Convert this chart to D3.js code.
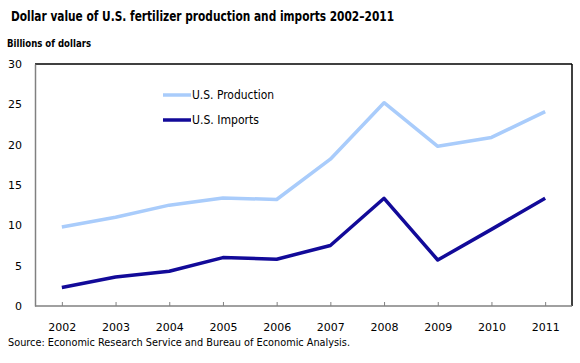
<!DOCTYPE html>
<html>
<head>
    <meta charset="utf-8">
    <script src="https://d3js.org/d3.v7.min.js"></script>
    <style>
        body { margin: 0; background: #ffffff; }
        text { font-family: 'DejaVu Sans', sans-serif; fill: #000000; }
    </style>
</head>
<body>
    <svg id="chart" width="580" height="363"></svg>
    <script>
        // chart data
        var years = ["2002", "2003", "2004", "2005", "2006", "2007", "2008", "2009", "2010", "2011"];
        var production = [9.8, 11.0, 12.5, 13.4, 13.2, 18.2, 25.2, 19.8, 20.9, 24.1];
        var imports = [2.3, 3.6, 4.3, 6.0, 5.8, 7.5, 13.35, 5.7, 9.5, 13.35];
        var yTicks = [0, 5, 10, 15, 20, 25, 30];
        var seriesNames = ["U.S. Production", "U.S. Imports"];

        var svg = d3.select("#chart");
        var plotLeft = 35, plotRight = 572, plotTop = 64, plotBottom = 306;

        var xScale = d3.scalePoint()
            .domain(years)
            .range([plotLeft, plotRight])
            .padding(0.5);
        var yScale = d3.scaleLinear()
            .domain([0, 30])
            .range([plotBottom, plotTop]);

        // title
        svg.append("text")
            .attr("x", 11).attr("y", 21)
            .attr("font-size", "14px").attr("font-weight", "bold")
            .attr("textLength", 383).attr("lengthAdjust", "spacingAndGlyphs")
            .text("Dollar value of U.S. fertilizer production and imports 2002\u20132011");

        svg.append("text")
            .attr("x", 7).attr("y", 47)
            .attr("font-size", "11px").attr("font-weight", "bold")
            .attr("textLength", 84).attr("lengthAdjust", "spacingAndGlyphs")
            .text("Billions of dollars");

        // frame: black top and right, gray axes
        svg.append("line")
            .attr("x1", plotLeft).attr("x2", plotRight).attr("y1", plotTop).attr("y2", plotTop)
            .attr("stroke", "#000").attr("stroke-width", 1.5);
        svg.append("line")
            .attr("x1", plotRight).attr("x2", plotRight).attr("y1", plotTop).attr("y2", plotBottom)
            .attr("stroke", "#000").attr("stroke-width", 1.5);

        var xAxis = d3.axisBottom(xScale).tickSize(4).tickSizeOuter(0);
        var gx = svg.append("g")
            .attr("transform", "translate(0," + plotBottom + ")")
            .call(xAxis);
        gx.selectAll("line").attr("stroke", "#808080").attr("y1", -4).attr("y2", 0);
        gx.select(".domain").attr("stroke", "#808080").attr("stroke-width", 1.5)
            .attr("d", "M" + plotLeft + ",0H" + plotRight);
        gx.selectAll("text")
            .attr("y", 25).attr("dy", 0)
            .attr("font-size", "11px")
            .style("font-family", "'DejaVu Sans', sans-serif")
            .attr("fill", "#000");

        var yAxis = d3.axisLeft(yScale).tickValues(yTicks).tickSize(0).tickPadding(13);
        var gy = svg.append("g")
            .attr("transform", "translate(" + plotLeft + ",0)")
            .call(yAxis);
        gy.select(".domain").attr("stroke", "#808080").attr("stroke-width", 1.5);
        gy.selectAll("text")
            .attr("font-size", "11px")
            .style("font-family", "'DejaVu Sans', sans-serif")
            .attr("fill", "#000");

        // lines
        var line = d3.line()
            .x(function (d, i) { return xScale(years[i]); })
            .y(function (d) { return yScale(d); });
        var colors = ["#a9ccfb", "#120a99"];
        [production, imports].forEach(function (series, k) {
            svg.append("path")
                .datum(series)
                .attr("fill", "none")
                .attr("stroke", colors[k])
                .attr("stroke-width", 3.5)
                .attr("stroke-linejoin", "round")
                .attr("d", line);
        });

        // legend
        var legendY = [95, 120];
        var legendW = [82, 67];
        seriesNames.forEach(function (name, k) {
            svg.append("line")
                .attr("x1", 163).attr("x2", 191)
                .attr("y1", legendY[k]).attr("y2", legendY[k])
                .attr("stroke", colors[k]).attr("stroke-width", 3.5);
            svg.append("text")
                .attr("x", 192).attr("y", legendY[k] + 4)
                .attr("font-size", "11.5px")
                .attr("textLength", legendW[k]).attr("lengthAdjust", "spacingAndGlyphs")
                .text(name);
        });

        // source
        svg.append("text")
            .attr("x", 8).attr("y", 346)
            .attr("font-size", "10.5px")
            .attr("textLength", 342).attr("lengthAdjust", "spacingAndGlyphs")
            .text("Source: Economic Research Service and Bureau of Economic Analysis.");
    </script>
</body>
</html>
